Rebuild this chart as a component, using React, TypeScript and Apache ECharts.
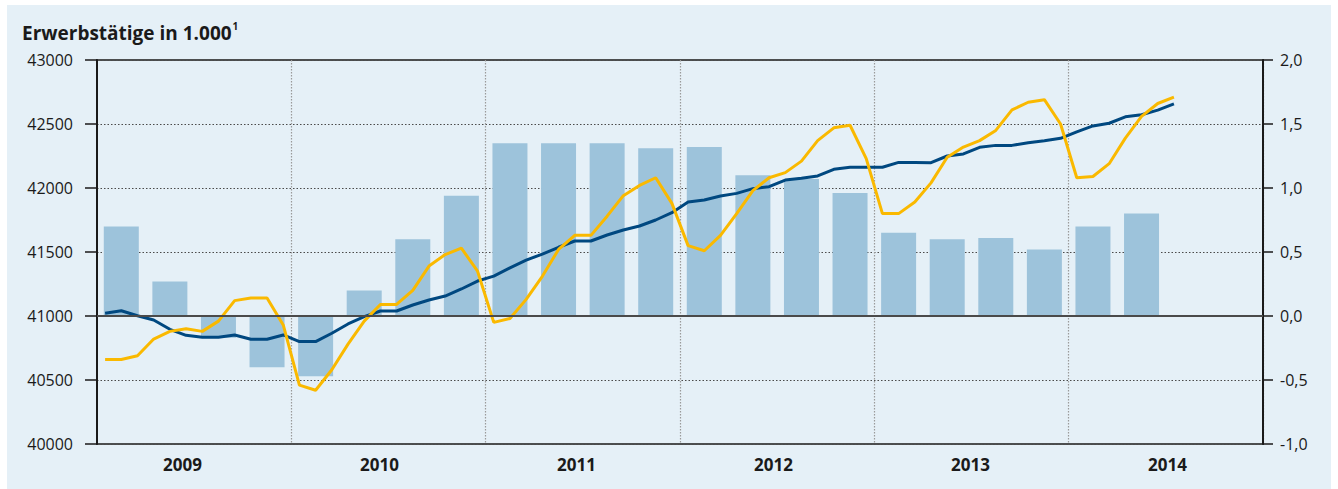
import React, { useEffect, useRef } from "react";
import * as echarts from "echarts";

// Years shown on the x axis (2014 only partly covered by data)
const years = ["2009", "2010", "2011", "2012", "2013", "2014"];

// Monthly employment in 1,000 persons (left axis), Jan 2009 – Jul 2014
const employment = [
  41021, 41041, 41002, 40969, 40896, 40849, 40834, 40834, 40852, 40818, 40818, 40852,
  40800, 40800, 40865, 40938, 40995, 41039, 41039, 41086, 41125, 41156, 41211, 41273,
  41312, 41376, 41436, 41484, 41537, 41586, 41586, 41633, 41672, 41703, 41750, 41807,
  41890, 41906, 41938, 41958, 41995, 42010, 42062, 42076, 42094, 42146, 42162, 42162,
  42162, 42200, 42200, 42198, 42250, 42266, 42318, 42333, 42333, 42354, 42370, 42388,
  42438, 42485, 42506, 42556, 42572, 42608, 42657,
];

// Monthly change in % (right axis), Jan 2009 – Jul 2014
const monthlyChange = [
  -0.34, -0.34, -0.31, -0.18, -0.12, -0.1, -0.12, -0.04, 0.12, 0.14, 0.14, -0.07,
  -0.54, -0.58, -0.42, -0.22, -0.04, 0.09, 0.09, 0.2, 0.39, 0.48, 0.53, 0.35,
  -0.05, -0.02, 0.13, 0.31, 0.52, 0.63, 0.63, 0.78, 0.94, 1.02, 1.08, 0.88,
  0.55, 0.51, 0.63, 0.8, 0.98, 1.08, 1.12, 1.21, 1.37, 1.47, 1.49, 1.23,
  0.8, 0.8, 0.89, 1.04, 1.24, 1.32, 1.37, 1.45, 1.61, 1.67, 1.69, 1.5,
  1.08, 1.09, 1.19, 1.39, 1.56, 1.66, 1.71,
];

// Quarterly change in % (right axis, bars), Q1 2009 – Q2 2014
const quarterlyChange = [
  0.7, 0.27, -0.17, -0.4,
  -0.47, 0.2, 0.6, 0.94,
  1.35, 1.35, 1.35, 1.31,
  1.32, 1.1, 1.07, 0.96,
  0.65, 0.6, 0.61, 0.52,
  0.7, 0.8,
];

const leftAxis = { min: 40000, max: 43000, interval: 500 };
const rightAxis = { min: -1, max: 2, interval: 0.5 };

const FONT = "'Open Sans', 'Noto Sans', sans-serif";

export default function App() {
  const ref = useRef<HTMLDivElement>(null);

  useEffect(() => {
    if (!ref.current) return;
    const chart = echarts.init(ref.current, null, { renderer: "svg" });

    const months: string[] = [];
    years.forEach((y) => {
      for (let i = 1; i <= 12; i++) months.push(`${y}-${String(i).padStart(2, "0")}`);
    });
    // quarterly bars sit on the middle month of each quarter
    const barData = months.map((_, i) =>
      i % 3 === 1 && quarterlyChange[(i - 1) / 3] !== undefined ? quarterlyChange[(i - 1) / 3] : "-"
    );

    const option: any = {
      animation: false,
      backgroundColor: "#e5f0f7",
      textStyle: { fontFamily: FONT },
      title: {
        text: "{a|Erwerbstätige in 1.000}{s|1}",
        left: 10,
        top: 11,
        textStyle: {
          rich: {
            a: { fontFamily: FONT, fontSize: 19, fontWeight: "bold", color: "#1a1a1a", lineHeight: 24 },
            s: { fontFamily: FONT, fontSize: 10, fontWeight: "bold", color: "#1a1a1a", verticalAlign: "top", lineHeight: 24, padding: [0, 0, 0, 1] },
          },
        },
      },
      grid: [
        {
          left: 90,
          right: 68,
          top: 55,
          bottom: 45,
          show: true,
          borderColor: "#1a1a1a",
          borderWidth: 1.5,
          backgroundColor: "transparent",
        },
        {
          left: 77,
          right: 65,
          top: 55,
          bottom: 45,
          show: false,
        },
      ],
      xAxis: [
        {
          type: "category",
          gridIndex: 0,
          data: months,
          boundaryGap: true,
          axisLine: { show: true, lineStyle: { color: "#1a1a1a", width: 1.5 } },
          axisTick: { show: false },
          axisLabel: { show: false },
          splitLine: {
            show: true,
            interval: (index: number) => index % 12 === 0 && index > 0,
            lineStyle: { color: "#9a9a9a", type: [1.5, 1.5], width: 1.2 },
          },
        },
        {
          type: "category",
          gridIndex: 1,
          data: years,
          position: "bottom",
          boundaryGap: true,
          axisLine: { show: false },
          axisTick: { show: false },
          splitLine: { show: false },
          axisLabel: { fontFamily: FONT, fontSize: 17, fontWeight: "bold", color: "#1a1a1a", margin: 12 },
        },
      ],
      yAxis: [
        {
          type: "value",
          gridIndex: 0,
          position: "left",
          min: leftAxis.min,
          max: leftAxis.max,
          interval: leftAxis.interval,
          axisLine: { show: true, lineStyle: { color: "#1a1a1a", width: 2 } },
          axisTick: { show: true, length: 12, lineStyle: { color: "#1a1a1a", width: 1.5 } },
          axisLabel: {
            fontFamily: FONT,
            fontSize: 16,
            color: "#1a1a1a",
            margin: 24,
            formatter: (v: number) => String(v),
          },
          splitLine: { show: true, lineStyle: { color: "#4a4a4a", type: [1.5, 2], width: 1.2 } },
        },
        {
          type: "value",
          gridIndex: 0,
          position: "right",
          min: rightAxis.min,
          max: rightAxis.max,
          interval: rightAxis.interval,
          axisLine: { show: true, lineStyle: { color: "#1a1a1a", width: 2 } },
          axisTick: { show: true, length: 10, lineStyle: { color: "#1a1a1a", width: 1.5 } },
          axisLabel: {
            fontFamily: FONT,
            fontSize: 16,
            color: "#1a1a1a",
            margin: 17,
            formatter: (v: number) => v.toFixed(1).replace(".", ","),
          },
          splitLine: { show: false },
        },
        {
          type: "value",
          gridIndex: 1,
          show: false,
        },
      ],
      series: [
        {
          name: "Quartal",
          type: "bar",
          xAxisIndex: 0,
          yAxisIndex: 1,
          data: barData,
          barWidth: 35,
          itemStyle: { color: "#9dc3db" },
          markLine: {
            silent: true,
            symbol: "none",
            label: { show: false },
            lineStyle: { color: "#4a4a4a", type: "solid", width: 2 },
            data: [{ yAxis: 0 }],
          },
        },
        {
          name: "Erwerbstätige",
          type: "line",
          xAxisIndex: 0,
          yAxisIndex: 0,
          data: employment,
          showSymbol: false,
          lineStyle: { color: "#004880", width: 3 },
        },
        {
          name: "Veränderung",
          type: "line",
          xAxisIndex: 0,
          yAxisIndex: 1,
          data: monthlyChange,
          showSymbol: false,
          lineStyle: { color: "#fab900", width: 3 },
        },
      ],
    };

    chart.setOption(option);
    return () => chart.dispose();
  }, []);

  return (
    <div
      ref={ref}
      style={{ position: "absolute", left: 7, top: 5, width: 1324, height: 484 }}
    />
  );
}
